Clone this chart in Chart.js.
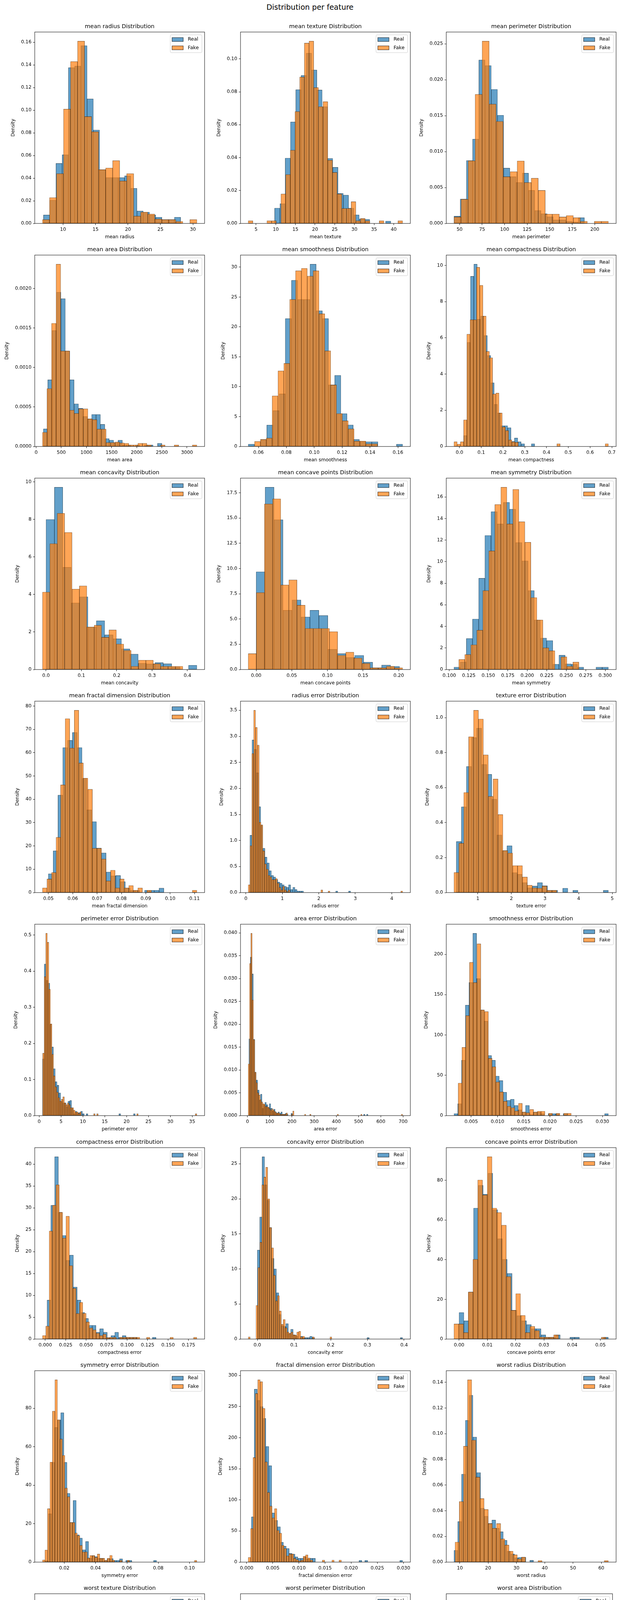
<!DOCTYPE html>
<html lang="en">
<head>
<meta charset="UTF-8">
<title>Distribution per feature</title>
<script src="https://cdn.jsdelivr.net/npm/chart.js"></script>
<style>
  html, body { margin: 0; background: #fff; font-family: "DejaVu Sans", sans-serif; }
  #fig { position: relative; width: 1588px; height: 5764px; background: #fff; overflow: hidden; }
  #suptitle { position: absolute; left: 0; top: 7px; width: 1588px; text-align: center;
              font-size: 19px; line-height: 22px; color: #000; }
  canvas { position: absolute; }
</style>
</head>
<body>
<div id="fig"><div id="suptitle">Distribution per feature</div></div>
<script>
// ---- features, in subplot order (row by row) ----
const featureNames = [
  "mean radius", "mean texture", "mean perimeter", "mean area", "mean smoothness",
  "mean compactness", "mean concavity", "mean concave points", "mean symmetry", "mean fractal dimension",
  "radius error", "texture error", "perimeter error", "area error", "smoothness error",
  "compactness error", "concavity error", "concave points error", "symmetry error", "fractal dimension error",
  "worst radius", "worst texture", "worst perimeter", "worst area", "worst smoothness",
  "worst compactness", "worst concavity", "worst concave points", "worst symmetry", "worst fractal dimension"
];

// ---- histogram bins: left edge of first bin and bin width ----
const realBinStart = [6.981, 9.71, 43.79, 143.5, 0.05263, 0.01938, 0, 0, 0.106, 0.04996,
  0.1115, 0.3602, 0.757, 6.802, 0.001713, 0.002252, 0, 0, 0.007882, 0.0008948,
  7.93, 12.02, 50.41, 185.2, 0.07117, 0.02729, 0, 0, 0.1565, 0.05504];
const realBinWidth = [0.9605, 1.344, 6.89, 87.3, 0.00443, 0.01553, 0.02371, 0.012575, 0.00792, 0.001978,
  0.05876, 0.15083, 0.4162, 6.529, 0.0007175, 0.004591, 0.006492, 0.001703, 0.001974, 0.0005566,
  1.3386, 2.0844, 9.56, 135.6, 0.006883, 0.04481, 0.0626, 0.022385, 0.015853, 0.004918];
const fakeBinStart = [6.83, 3.0, 43.9, 126, 0.05717, -0.0253, -0.0101, -0.0111, 0.1122, 0.04756,
  0.065, 0.292, 0.81, 3.6, 0.002515, -0.00339, -0.0249, -0.0018, 0.00608, 0.0003,
  8.33, 8.85, 52.0, 229.5, 0.075, 0.0, -0.0162, 0.0, 0.161, 0.0549];
const fakeBinWidth = [1.081, 1.19, 7.78, 90.3, 0.0042, 0.01478, 0.0209, 0.0114, 0.0077, 0.001865,
  0.0498, 0.1455, 0.3527, 5.885, 0.000718, 0.0041, 0.0053, 0.00168, 0.00159, 0.000457,
  1.464, 1.937, 9.64, 132.9, 0.007038, 0.04136, 0.0617, 0.0204, 0.01602, 0.0047];

// ---- tick steps and label decimals ----
const xTickStep = [5, 5, 25, 500, 0.02, 0.1, 0.1, 0.05, 0.025, 0.01,
  1, 1, 5, 100, 0.005, 0.025, 0.1, 0.01, 0.02, 0.005,
  10, 5, 50, 1000, 0.025, 0.2, 0.2, 0.05, 0.1, 0.02];
const xTickDecimals = [0, 0, 0, 0, 2, 1, 1, 2, 3, 2,
  0, 0, 0, 0, 3, 3, 1, 2, 2, 3,
  0, 0, 0, 0, 3, 1, 1, 2, 1, 2];
const yTickStep = [0.02, 0.02, 0.005, 0.0005, 5, 2, 2, 2.5, 2, 10,
  0.5, 0.2, 0.1, 0.005, 50, 5, 5, 20, 20, 50,
  0.02, 0.01, 0.0025, 0.0002, 2.5, 0.5, 0.5, 1, 2, 5];
const yTickDecimals = [2, 2, 3, 4, 0, 0, 0, 1, 0, 0,
  1, 1, 1, 3, 0, 0, 0, 0, 0, 0,
  2, 2, 4, 4, 1, 1, 1, 0, 0, 0];

// ---- densities per bin ----
const meanRadiusReal = [0.0075, 0.0205, 0.053, 0.0607, 0.1376, 0.139, 0.157, 0.110, 0.0825, 0.0475,
  0.0405, 0.0405, 0.0405, 0.042, 0.031, 0.011, 0.010, 0.0075, 0.0055, 0.0035, 0.0035, 0.0055];
const meanRadiusFake = [0.0034, 0.0228, 0.044, 0.101, 0.143, 0.161, 0.0944, 0.081, 0.0475, 0.049,
  0.0555, 0.0375, 0.044, 0.0065, 0.010, 0.0083, 0.0039, 0.0034, 0.0034, 0.0018, 0, 0.0034];

const meanTextureReal = [0.0093, 0.012, 0.0397, 0.0617, 0.0813, 0.090, 0.1035, 0.0933, 0.0811, 0.071,
  0.0395, 0.0341, 0.0182, 0.0172, 0.0093, 0.0052, 0.0027, 0.0025, 0, 0, 0, 0.0014];
const meanTextureFake = [0.0016, 0, 0, 0, 0.0016, 0.0016, 0, 0.0179, 0.0297, 0.0445,
  0.068, 0.089, 0.1096, 0.1108, 0.0826, 0.071, 0.074, 0.0384, 0.031, 0.0179,
  0.0091, 0.0091, 0.0132, 0.0016, 0.003, 0.0016, 0, 0, 0.0016, 0,
  0, 0, 0.0016];

const meanPerimeterReal = [0.00102, 0.0034, 0.00876, 0.01174, 0.02275, 0.02197, 0.01866, 0.01506, 0.0077, 0.0065,
  0.0057, 0.0070, 0.0046, 0.0018, 0.00135, 0.00094, 0.0005, 0.0005, 0.0003, 0.0002, 0.0008];
const meanPerimeterFake = [0.0009, 0.00336, 0.00872, 0.01796, 0.02537, 0.01661, 0.0142, 0.0065, 0.0072, 0.0087,
  0.0057, 0.0063, 0.0046, 0.0013, 0.0013, 0.0009, 0.0011, 0.0008, 0.0003, 0, 0.0003, 0.0003];

const meanAreaReal = [0.000223, 0.000845, 0.00147, 0.001955, 0.001873, 0.00121, 0.000845, 0.00054, 0.000484, 0.00038,
  0.00035, 0.000406, 0.000406, 0.00028, 0.0001, 0.00008, 0.00005, 0.00008, 0.00002, 0.00002,
  0, 0.00002, 0, 0.00002, 0.00002, 0, 0.00004];
const meanAreaFake = [0.000179, 0.000734, 0.00156, 0.00231, 0.00121, 0.00121, 0.00046, 0.00042, 0.000477, 0.000477,
  0.00035, 0.00034, 0.00022, 0.00022, 0.00005, 0.00005, 0.000056, 0.000045, 0.00004, 0.00002,
  0.00002, 0.00004, 0.00004, 0.00002, 0, 0, 0.00002, 0, 0, 0.00002,
  0, 0, 0, 0.00002];

const meanSmoothnessReal = [0.39, 0, 1.18, 3.59, 6.0, 8.8, 21.4, 27.8, 24.6, 24.6,
  30.5, 22.7, 21.4, 10.3, 11.9, 5.5, 3.6, 1.18, 0.79, 0.79, 0.79, 0, 0, 0, 0.39];
const meanSmoothnessFake = [0.84, 1.18, 1.4, 8.46, 12.64, 13.9, 24.6, 29.4, 29.8, 28.5,
  29.4, 22.2, 16.0, 10.3, 5.5, 4.3, 2.95, 0.9, 0.9, 0.45, 0.45];

const meanCompactnessReal = [0.6, 5.75, 9.4, 10.07, 7.03, 7.2, 6.13, 5.02, 3.52, 2.33,
  1.85, 1.15, 1.15, 1.04, 0.28, 0.47, 0.26, 0.15, 0, 0, 0.15];
const meanCompactnessFake = [0.26, 0.13, 0.26, 1.47, 6.2, 7.0, 7.0, 9.9, 8.9, 7.2,
  5.25, 4.9, 2.9, 2.95, 1.85, 1.08, 0.88, 0.36, 0.26, 0.23,
  0, 0, 0, 0, 0, 0, 0, 0, 0, 0,
  0, 0, 0.15, 0, 0, 0, 0, 0, 0, 0,
  0, 0, 0, 0, 0, 0, 0, 0.15];

const meanConcavityReal = [8.0, 9.72, 5.45, 3.55, 3.88, 2.27, 2.6, 1.85, 1.64, 1.1,
  0.82, 0.33, 0.3, 0.37, 0.31, 0.15, 0, 0.23];
const meanConcavityFake = [4.13, 6.71, 8.33, 7.31, 4.29, 4.46, 2.27, 2.36, 1.72, 2.11,
  1.36, 1.02, 0.17, 0.5, 0.5, 0.31, 0.17, 0.17, 0.17];

const meanConcavePointsReal = [9.68, 18.05, 14.83, 5.87, 6.89, 5.2, 5.87, 5.35, 2.0, 1.57,
  1.2, 1.4, 0.73, 0.17, 0.44, 0.32];
const meanConcavePointsFake = [1.57, 7.62, 16.4, 16.9, 8.37, 8.87, 6.37, 4.07, 4.07, 4.07,
  3.75, 1.4, 1.72, 1.13, 0.61, 0.17, 0.17, 0.32, 0.17];

const meanSymmetryReal = [0.22, 0.7, 2.88, 4.68, 8.46, 12.43, 14.64, 13.5, 15.5, 14.86,
  11.78, 10.07, 7.32, 4.6, 2.91, 2.69, 0.49, 1.33, 0.52, 0.49, 0.22, 0, 0, 0.22, 0.22];
const meanSymmetryFake = [0.93, 1.39, 2.29, 3.65, 7.32, 11.0, 15.3, 16.9, 13.5, 16.7,
  13.7, 11.8, 6.67, 4.6, 2.01, 1.74, 0, 1.17, 0.3, 0.69];

const meanFractalDimensionReal = [8.06, 17.9, 41.8, 62.2, 65.3, 68.7, 62.2, 49, 35.5, 30.4,
  19.1, 17.0, 8.8, 7.2, 7.3, 4.66, 2.0, 1.0, 1.0, 0, 1.0, 1.0, 1.0, 1.9];
const meanFractalDimensionFake = [2.0, 5.8, 8.6, 23.7, 46.2, 74.6, 62, 78.2, 55.6, 49.1,
  44.3, 19, 19, 14.4, 5.0, 9.6, 2.0, 5.8, 2.0, 3.0,
  1.0, 2.0, 0, 1.0, 0, 0, 0, 0, 0, 0,
  0, 0, 0, 1.0];

const radiusErrorReal = [1.1, 2.93, 2.75, 2.3, 1.65, 1.29, 0.85, 0.68, 0.57, 0.42,
  0.33, 0.3, 0.25, 0.2, 0.18, 0.15, 0.12, 0.1, 0.15, 0.06,
  0.1, 0.06, 0.03, 0.03, 0.03, 0, 0, 0, 0, 0,
  0, 0, 0, 0, 0, 0, 0, 0, 0, 0,
  0.03, 0, 0, 0, 0, 0, 0.03];
const radiusErrorFake = [0.15, 0.9, 2.67, 3.5, 3.17, 2.83, 1.35, 1.3, 0.8, 0.55,
  0.45, 0.33, 0.3, 0.25, 0.25, 0.27, 0.18, 0.1, 0.05, 0.12,
  0.05, 0.02, 0.05, 0, 0, 0, 0, 0, 0, 0,
  0, 0, 0, 0, 0, 0, 0, 0, 0, 0,
  0.05, 0, 0, 0, 0.03, 0, 0, 0, 0, 0,
  0, 0, 0, 0, 0, 0, 0, 0, 0, 0,
  0, 0, 0, 0, 0, 0, 0, 0, 0, 0,
  0, 0, 0, 0, 0, 0, 0, 0, 0, 0,
  0, 0, 0, 0, 0.03];

const textureErrorReal = [0.292, 0.49, 0.721, 0.886, 0.94, 0.733, 0.676, 0.534, 0.329, 0.24,
  0.268, 0.114, 0.104, 0.057, 0.027, 0.037, 0.057, 0.039, 0.013, 0.013,
  0, 0.025, 0, 0.013, 0, 0, 0, 0, 0, 0.013];
const textureErrorFake = [0.115, 0.282, 0.572, 0.891, 1.042, 0.992, 0.787, 0.55, 0.649, 0.446,
  0.24, 0.226, 0.154, 0.154, 0.089, 0.042, 0.027, 0.025, 0.037, 0.013, 0.013];

const perimeterErrorReal = [0.157, 0.42, 0.375, 0.367, 0.253, 0.19, 0.13, 0.094, 0.084, 0.063,
  0.04, 0.035, 0.035, 0.025, 0.04, 0.042, 0.02, 0.005, 0.012, 0.008,
  0.008, 0.012, 0.005, 0, 0.005, 0, 0, 0, 0, 0,
  0, 0, 0, 0, 0, 0, 0, 0, 0, 0,
  0, 0, 0.005, 0, 0, 0, 0, 0, 0, 0,
  0.005];
const perimeterErrorFake = [0.173, 0.385, 0.505, 0.48, 0.35, 0.254, 0.17, 0.11, 0.08, 0.065,
  0.05, 0.04, 0.045, 0.052, 0.035, 0.03, 0.035, 0.03, 0.022, 0.022,
  0.015, 0.01, 0.01, 0.006, 0.01, 0, 0, 0, 0, 0,
  0, 0, 0, 0.005, 0, 0.005, 0, 0, 0, 0,
  0, 0, 0, 0, 0, 0, 0, 0, 0, 0,
  0, 0, 0, 0, 0, 0, 0, 0, 0, 0,
  0, 0.005, 0, 0, 0, 0, 0, 0, 0, 0,
  0, 0, 0, 0, 0, 0, 0, 0, 0, 0,
  0, 0, 0, 0, 0, 0, 0, 0, 0, 0,
  0, 0, 0, 0, 0, 0, 0, 0, 0, 0.005];

const areaErrorReal = [0.0168, 0.0347, 0.031, 0.0167, 0.0095, 0.0078, 0.0056, 0.0034, 0.0047, 0.0016,
  0.0024, 0.0029, 0.0024, 0.0018, 0.0026, 0.0016, 0.001, 0.0014, 0.0008, 0.0005,
  0.0008, 0.0005, 0.0008, 0.0003, 0.0003, 0.0005, 0.0003, 0, 0, 0.0005,
  0, 0, 0, 0, 0, 0, 0, 0, 0, 0,
  0, 0, 0, 0, 0, 0, 0, 0, 0, 0,
  0, 0, 0, 0, 0, 0, 0, 0, 0, 0,
  0, 0, 0, 0, 0, 0, 0, 0, 0, 0,
  0, 0, 0, 0, 0, 0, 0, 0, 0, 0.0003,
  0, 0.0003];
const areaErrorFake = [0.0113, 0.0333, 0.0399, 0.0253, 0.0166, 0.0095, 0.0072, 0.005, 0.0045, 0.0035,
  0.003, 0.0026, 0.0025, 0.002, 0.002, 0.0018, 0.0015, 0.0012, 0.0015, 0.0012,
  0.0009, 0.0006, 0.0006, 0.0006, 0.0003, 0.0003, 0.0003, 0.0003, 0.0003, 0.0006,
  0, 0, 0, 0.0003, 0.001, 0, 0, 0, 0, 0,
  0, 0, 0, 0.0003, 0, 0, 0, 0.0003, 0, 0,
  0, 0, 0, 0, 0, 0, 0, 0, 0, 0,
  0, 0, 0, 0, 0, 0, 0, 0, 0.0003, 0,
  0, 0, 0, 0, 0, 0, 0, 0, 0, 0,
  0, 0, 0, 0, 0, 0, 0.0003, 0, 0, 0,
  0, 0, 0, 0, 0, 0, 0, 0, 0, 0,
  0, 0, 0, 0, 0, 0, 0, 0, 0, 0,
  0, 0, 0, 0, 0, 0, 0, 0.0003];

const smoothnessErrorReal = [2.5, 14.7, 68.6, 137, 165, 226, 170, 131, 117, 74.5,
  68.6, 49, 43.4, 29, 19, 20.3, 12.7, 7.2, 4.5, 12.7,
  1.2, 4.5, 4.5, 2.5, 0, 2.5, 2.5, 2.5, 0, 2.5,
  0, 0, 0, 0, 0, 0, 0, 0, 0, 0,
  2.5];
const smoothnessErrorFake = [40.3, 84.6, 124, 190, 165, 213, 131, 129, 71, 60.6,
  41.7, 29.4, 17.8, 11.6, 9.8, 5.8, 15.2, 4.4, 3.6, 7.6,
  4.4, 5.4, 5.4, 0, 2.9, 0, 2.9, 0, 2.9, 2.9];

const compactnessErrorReal = [8.9, 30.6, 41.7, 29.0, 23.7, 18, 19.2, 11.9, 8.9, 6.1,
  4.7, 3.15, 3.15, 1.55, 2.35, 1.55, 0.34, 0.8, 1.55, 0.4,
  0.8, 0.4, 0.4, 0.4, 0, 0, 0, 0, 0.4];
const compactnessErrorFake = [0.8, 2.96, 24.7, 30.6, 35.3, 29.0, 23.1, 28.1, 16.8, 11.6,
  5.85, 8.4, 5.9, 3.9, 2.55, 2.1, 1.35, 0.8, 1.1, 0.34,
  0.4, 0.4, 0, 0.4, 0.4, 0.4, 0.4, 0.4, 0.4, 0,
  0, 0.4, 0, 0, 0, 0, 0, 0, 0.4, 0,
  0, 0, 0, 0, 0, 0.4];

const concavityErrorReal = [12.7, 17.4, 26.0, 22.0, 19.8, 15.9, 11.5, 10.0, 6.6, 3.5,
  1.9, 1.8, 2.2, 0.8, 1.4, 0.6, 0.4, 0, 0.4, 0.2,
  0.2, 0.2, 0.4, 0.2, 0, 0, 0, 0, 0, 0,
  0, 0, 0, 0, 0, 0, 0, 0, 0, 0,
  0, 0, 0, 0, 0, 0, 0.2, 0, 0, 0,
  0, 0, 0, 0, 0, 0, 0, 0, 0, 0,
  0.2];
const concavityErrorFake = [0.3, 0, 0, 0, 4.8, 10.2, 13.8, 22.0, 23.1, 24.5,
  20.0, 15.9, 13.0, 9.1, 5.45, 6.2, 4.0, 2.1, 2.8, 1.6,
  1.0, 0.8, 1.0, 0.6, 0.55, 1.0, 1.1, 0.3, 0.4, 0,
  0, 0, 0, 0.3, 0, 0, 0, 0, 0, 0,
  0, 0, 0.3];

const concavePointsErrorReal = [13.4, 9.2, 23.7, 66.0, 77.5, 73, 83.6, 65.2, 50.6, 40.2,
  33.1, 14.5, 11.8, 9.2, 7.3, 5.2, 5.2, 2.1, 0.9, 0.9,
  2.1, 0, 0, 0.9, 0.9, 0, 0, 0, 0, 0,
  0.9];
const concavePointsErrorFake = [7.6, 7.6, 3.3, 23.7, 40.2, 80.2, 72.6, 91.9, 66.0, 63.8,
  57.4, 31.5, 14.5, 22.9, 11.9, 3.3, 6.4, 4.3, 1.0, 0.9,
  0.9, 2.1, 0, 0, 0, 0, 0, 0, 0, 0,
  0, 0.9];

const symmetryErrorReal = [0.8, 25.1, 51.9, 70, 74, 77.7, 51.9, 35.8, 20.6, 32.1,
  14.2, 12.5, 6.4, 10.7, 2.1, 3.4, 2.9, 2.0, 2.0, 0.9,
  1.7, 1.8, 0.9, 0.9, 1.7, 0, 0.9, 0.9, 0, 0,
  0, 0, 0, 0, 0, 0.9];
const symmetryErrorFake = [1.1, 6.3, 27.8, 52, 78.5, 94.8, 74, 64, 55.5, 38.5,
  34, 20.6, 20.6, 15.1, 13.8, 8.7, 5.3, 5.3, 2.1, 3.4,
  3.4, 2.5, 4.2, 2.0, 2.0, 0.9, 2.0, 3.5, 1.0, 0,
  0, 0.9, 0, 0, 0.9, 0, 0, 0, 0, 0,
  0, 0, 0, 0, 0, 0, 0, 0, 0, 0,
  0, 0, 0, 0, 0, 0, 0, 0, 0, 0,
  0, 0.9];

const fractalDimensionErrorReal = [72.8, 278, 260, 250, 231, 186, 155, 79, 67, 56.7,
  32, 25.5, 22, 14, 12.8, 8.5, 6.1, 6.1, 8.5, 5.2,
  6.1, 6.1, 0, 0, 0, 0, 0, 0, 0, 0,
  0, 0, 0, 0, 0, 0, 0, 2.8, 0, 2.8,
  0, 0, 0, 0, 0, 0, 0, 0, 0, 0,
  0, 2.8];
const fractalDimensionErrorFake = [7.6, 53.9, 168, 271, 293, 290, 247, 161, 112, 90,
  71, 86, 51, 46.5, 27, 22, 10, 13, 13, 6,
  4, 2, 3, 9.4, 11.6, 6.5, 3.3, 0, 0, 0,
  0, 3.3, 0, 0, 0, 3.3, 0, 0, 3.3];

const worstRadiusReal = [0.0092, 0.0316, 0.0685, 0.1104, 0.130, 0.0974, 0.0697, 0.042, 0.0357, 0.0302,
  0.0328, 0.0264, 0.0236, 0.017, 0.0085, 0.0064, 0.0034, 0.0037, 0.0037, 0, 0.0014];
const worstRadiusFake = [0.0156, 0.0472, 0.0903, 0.142, 0.095, 0.0662, 0.0495, 0.041, 0.030, 0.0264,
  0.030, 0.0181, 0.0133, 0.0085, 0.0057, 0.0025, 0.0039, 0, 0, 0,
  0.0012, 0, 0, 0, 0, 0, 0, 0, 0, 0,
  0, 0, 0, 0, 0, 0, 0.0012];

const worstTextureReal = [0.0034, 0.0153, 0.0389, 0.0477, 0.0565, 0.054, 0.0759, 0.0524, 0.0397, 0.0414,
  0.0253, 0.0135, 0.0073, 0.0043, 0.0037, 0.0017, 0.0017, 0.0009];
const worstTextureFake = [0.0009, 0.0018, 0.0048, 0.012, 0.0267, 0.0478, 0.0523, 0.0734, 0.0606, 0.056,
  0.0625, 0.0387, 0.0312, 0.0147, 0.0125, 0.012, 0.0073, 0.0037, 0.0037, 0.0004, 0.0006];

const worstPerimeterReal = [0.0017, 0.0055, 0.00995, 0.0204, 0.0159, 0.012, 0.0086, 0.0068, 0.0053, 0.0046,
  0.0044, 0.0037, 0.0025, 0.0009, 0.0009, 0.0012, 0.0009, 0.0005, 0.0002, 0, 0.0002];
const worstPerimeterFake = [0.00184, 0.0066, 0.0114, 0.0207, 0.0156, 0.011, 0.0064, 0.0074, 0.005, 0.0037,
  0.0036, 0.0029, 0.0024, 0.0019, 0.0009, 0.0013, 0.0006, 0.0006, 0, 0,
  0, 0.0002, 0, 0, 0, 0.0002];

const worstAreaReal = [0.000313, 0.000912, 0.00167, 0.00117, 0.00088, 0.00056, 0.00037, 0.00031, 0.00023, 0.000286,
  0.000167, 0.00017, 0.000146, 0.000076, 0.000076, 0.000035, 0.00005, 0.000024, 0.00003, 0.00003,
  0.000027, 0.00003, 0.000013, 0, 0, 0, 0, 0, 0, 0.000013];
const worstAreaFake = [0.000478, 0.001265, 0.001616, 0.00092, 0.000556, 0.00048, 0.000367, 0.000229, 0.000227, 0.000227,
  0.00017, 0.000167, 0.000146, 0.000132, 0.000076, 0.000054, 0.000049, 0.000022, 0.000032, 0.000022,
  0.000016, 0.000013, 0.000013, 0, 0.000013, 0, 0, 0, 0, 0,
  0, 0, 0, 0, 0, 0.000013, 0, 0, 0, 0,
  0, 0, 0, 0, 0, 0, 0, 0, 0, 0,
  0, 0, 0, 0, 0, 0.000013];

const worstSmoothnessReal = [0.31, 0.8, 2.03, 6.12, 8.4, 11.48, 12.0, 17.0, 17.85, 16.83,
  18.12, 12.49, 7.78, 5.35, 3.57, 2.8, 1.78, 1.0, 0.28, 0.22, 0.49, 0.52];
const worstSmoothnessFake = [0.22, 1.0, 3.5, 7.8, 12.6, 13.6, 19.1, 17.1, 16.9, 14.3,
  10.0, 7.8, 7.57, 4.55, 2.8, 1.0, 1.5, 0.28, 0.22, 0.49, 0.52, 0, 0.22];

const worstCompactnessReal = [1.22, 2.63, 2.87, 4.0, 2.68, 2.0, 1.6, 1.61, 1.46, 0.955,
  0.632, 0.361, 0.355, 0.123, 0.168, 0.116, 0.116, 0.04, 0, 0, 0.07, 0, 0.04];
const worstCompactnessFake = [0.297, 1.284, 2.53, 3.17, 3.05, 3.25, 2.66, 2.23, 1.4, 1.37,
  0.935, 0.63, 0.39, 0.297, 0.123, 0.077, 0.116, 0.11, 0.04, 0.084, 0, 0.04, 0, 0.04, 0.04];

const worstConcavityReal = [2.107, 2.3, 2.444, 1.8, 1.49, 1.57, 1.26, 0.76, 0.67, 0.48,
  0.45, 0.34, 0.116, 0.112, 0.084, 0.032, 0, 0.032, 0.032, 0.032];
const worstConcavityFake = [1.48, 1.74, 2.15, 2.484, 1.855, 1.71, 1.35, 1.0, 0.685, 0.66,
  0.425, 0.264, 0.12, 0.136, 0.116, 0.032, 0, 0.056];

const worstConcavePointsReal = [2.12, 3.54, 6.6, 7.37, 5.66, 3.22, 4.16, 3.46, 3.13, 2.84, 1.18, 1.17, 0.544];
const worstConcavePointsFake = [1.89, 2.57, 4.38, 6.46, 8.42, 6.03, 4.38, 3.27, 2.84, 2.84,
  2.35, 1.46, 0.68, 0.52, 0.26, 0.08];

const worstSymmetryReal = [0.66, 0.44, 2.1, 3.5, 5.31, 6.77, 7.99, 8.87, 6.0, 6.77,
  6.34, 3.85, 2.45, 1.92, 0.96, 1.16, 0.54, 0.44, 0, 0.54,
  0.54, 0.1, 0.1, 0, 0.1, 0, 0, 0, 0, 0,
  0, 0.1];
const worstSymmetryFake = [0.32, 0.32, 1.92, 3.95, 6.18, 7.65, 7.1, 7.8, 6.0, 5.98,
  3.8, 2.35, 1.55, 0.96, 1.16, 0.3, 0.1, 0.82, 0.5, 0.1,
  0, 0.1, 0, 0, 0, 0.1, 0.2, 0, 0, 0,
  0, 0, 0, 0.1];

const worstFractalDimensionReal = [4.6, 12.5, 23.95, 27, 31.8, 25.1, 17.9, 16.4, 10.6, 10.05,
  7.9, 3.6, 1.85, 2.5, 3.23, 0.41, 1.08, 1.8, 0.41, 0.41,
  0, 0, 0, 0.41, 0, 0, 0, 0, 0, 0,
  0.41];
const worstFractalDimensionFake = [3.5, 14.8, 18.3, 27.6, 30.8, 24.2, 21.0, 16.0, 11.0, 8.2,
  5.1, 3.6, 3.6, 2.2, 2.0, 1.5, 1.0, 0.67, 0.46, 0,
  0, 0, 0, 0, 0, 0, 0.41, 0, 0, 0.41];

const realDensity = [meanRadiusReal, meanTextureReal, meanPerimeterReal, meanAreaReal, meanSmoothnessReal,
  meanCompactnessReal, meanConcavityReal, meanConcavePointsReal, meanSymmetryReal, meanFractalDimensionReal,
  radiusErrorReal, textureErrorReal, perimeterErrorReal, areaErrorReal, smoothnessErrorReal,
  compactnessErrorReal, concavityErrorReal, concavePointsErrorReal, symmetryErrorReal, fractalDimensionErrorReal,
  worstRadiusReal, worstTextureReal, worstPerimeterReal, worstAreaReal, worstSmoothnessReal,
  worstCompactnessReal, worstConcavityReal, worstConcavePointsReal, worstSymmetryReal, worstFractalDimensionReal];
const fakeDensity = [meanRadiusFake, meanTextureFake, meanPerimeterFake, meanAreaFake, meanSmoothnessFake,
  meanCompactnessFake, meanConcavityFake, meanConcavePointsFake, meanSymmetryFake, meanFractalDimensionFake,
  radiusErrorFake, textureErrorFake, perimeterErrorFake, areaErrorFake, smoothnessErrorFake,
  compactnessErrorFake, concavityErrorFake, concavePointsErrorFake, symmetryErrorFake, fractalDimensionErrorFake,
  worstRadiusFake, worstTextureFake, worstPerimeterFake, worstAreaFake, worstSmoothnessFake,
  worstCompactnessFake, worstConcavityFake, worstConcavePointsFake, worstSymmetryFake, worstFractalDimensionFake];

// ---- look ----
const FONT = '"DejaVu Sans", sans-serif';
const REAL_FILL = 'rgba(31,119,180,0.7)';
const FAKE_FILL = 'rgba(255,127,14,0.7)';
const EDGE = 'rgba(0,0,0,0.7)';

// axes boxes in page pixels
const AX_LEFT = [89, 616, 1143];
const AX_W = 435, AX_H = 490;
const PAD_L = 88, PAD_R = 8, PAD_T = 40, PAD_B = 50;
function axTop(row) { return Math.round(81.5 + row * 571.2); }

function makeTicks(min, max, step) {
  const out = [];
  const first = Math.ceil(min / step - 1e-9);
  const last = Math.floor(max / step + 1e-9);
  for (let k = first; k <= last; k++) out.push(+(k * step).toFixed(10));
  return out;
}

// axes frame (all four spines)
const framePlugin = {
  id: 'frame',
  afterDatasetsDraw(chart) {
    const { ctx, chartArea: a } = chart;
    ctx.save();
    ctx.strokeStyle = '#000';
    ctx.lineWidth = 1;
    ctx.strokeRect(a.left, a.top, a.right - a.left, a.bottom - a.top);
    ctx.restore();
  }
};

// legend box in the upper right corner of the axes
const cornerLegend = {
  id: 'cornerLegend',
  afterDraw(chart) {
    const { ctx, chartArea: a } = chart;
    const w = 81, h = 45.6, r = 2.8;
    const x0 = a.right - 6.8 - w, y0 = a.top + 7.2;
    ctx.save();
    ctx.beginPath();
    ctx.moveTo(x0 + r, y0);
    ctx.arcTo(x0 + w, y0, x0 + w, y0 + h, r);
    ctx.arcTo(x0 + w, y0 + h, x0, y0 + h, r);
    ctx.arcTo(x0, y0 + h, x0, y0, r);
    ctx.arcTo(x0, y0, x0 + w, y0, r);
    ctx.closePath();
    ctx.fillStyle = 'rgba(255,255,255,0.8)';
    ctx.fill();
    ctx.strokeStyle = '#cccccc';
    ctx.lineWidth = 1;
    ctx.stroke();
    chart.data.datasets.forEach((ds, k) => {
      const cy = y0 + 12 + k * 21.3;
      ctx.fillStyle = ds.backgroundColor;
      ctx.fillRect(x0 + 4.5, cy - 5, 28.6, 10);
      ctx.strokeStyle = ds.borderColor;
      ctx.lineWidth = 1.2;
      ctx.strokeRect(x0 + 4.5, cy - 5, 28.6, 10);
      ctx.fillStyle = '#000';
      ctx.font = '12.5px ' + FONT;
      ctx.textAlign = 'left';
      ctx.textBaseline = 'middle';
      ctx.fillText(ds.label, x0 + 44.7, cy);
    });
    ctx.restore();
  }
};

const measure = document.createElement('canvas').getContext('2d');
measure.font = '12px ' + FONT;

const fig = document.getElementById('fig');

featureNames.forEach((name, i) => {
  const row = Math.floor(i / 3), col = i % 3;
  const real = realDensity[i], fake = fakeDensity[i];

  const realPts = real.map((d, k) => ({ x: realBinStart[i] + (k + 0.5) * realBinWidth[i], y: d }));
  const fakePts = fake.map((d, k) => ({ x: fakeBinStart[i] + (k + 0.5) * fakeBinWidth[i], y: d }));

  const lo = Math.min(realBinStart[i], fakeBinStart[i]);
  const hi = Math.max(realBinStart[i] + real.length * realBinWidth[i],
                      fakeBinStart[i] + fake.length * fakeBinWidth[i]);
  const xMin = lo - 0.05 * (hi - lo), xMax = hi + 0.05 * (hi - lo);
  const yMax = 1.05 * Math.max(...real, ...fake);

  const xt = makeTicks(xMin, xMax, xTickStep[i]);
  const yt = makeTicks(0, yMax, yTickStep[i]);
  const xd = xTickDecimals[i], yd = yTickDecimals[i];

  // place "Density" like matplotlib: left of the widest tick label
  const labW = Math.max(...yt.map(v => measure.measureText(v.toFixed(yd)).width));
  const yTitlePad = Math.max(0, PAD_L - labW - 28.7 - 7.2);

  const canvas = document.createElement('canvas');
  const cw = PAD_L + AX_W + PAD_R, ch = PAD_T + AX_H + PAD_B;
  canvas.width = cw; canvas.height = ch;
  canvas.style.left = (AX_LEFT[col] - PAD_L) + 'px';
  canvas.style.top = (axTop(row) - PAD_T) + 'px';
  canvas.style.width = cw + 'px';
  canvas.style.height = ch + 'px';
  fig.appendChild(canvas);
  // software 2D context, painted with the page rather than as a GPU layer
  const ctx = canvas.getContext('2d', { willReadFrequently: true });

  const tickFont = { family: FONT, size: 12 };
  const axisGrid = { drawOnChartArea: false, drawTicks: true, tickLength: 4.2, color: '#000', lineWidth: 1, offset: false };
  const barStyle = { borderColor: EDGE, borderWidth: 0.6, borderSkipped: false,
                     barPercentage: 1, categoryPercentage: 1, grouped: false };

  new Chart(ctx, {
    type: 'bar',
    data: {
      datasets: [
        Object.assign({ label: 'Real', data: realPts, xAxisID: 'x', yAxisID: 'y', backgroundColor: REAL_FILL, order: 1 }, barStyle),
        Object.assign({ label: 'Fake', data: fakePts, xAxisID: 'x2', yAxisID: 'y', backgroundColor: FAKE_FILL, order: 0 }, barStyle)
      ]
    },
    options: {
      responsive: false,
      animation: false,
      devicePixelRatio: 1,
      layout: { padding: { left: 0, right: PAD_R, top: 0, bottom: 0 } },
      plugins: {
        legend: { display: false },
        tooltip: { enabled: false },
        title: {
          display: true,
          fullSize: false,
          text: name + ' Distribution',
          color: '#000',
          font: { family: FONT, size: 14.4, weight: 'normal' },
          padding: { top: 17.9, bottom: 4.82 }
        }
      },
      scales: {
        x: {
          type: 'linear', position: 'bottom', min: xMin, max: xMax, offset: false,
          grid: axisGrid, border: { display: false },
          ticks: { autoSkip: false, maxRotation: 0, padding: 4.2, color: '#000', font: tickFont,
                   callback: v => Number(v).toFixed(xd) },
          title: { display: true, text: name, color: '#000', font: tickFont, padding: { top: 0, bottom: 7.5 } },
          afterBuildTicks: s => { s.ticks = xt.map(v => ({ value: v })); },
          afterFit: s => { s.height = PAD_B; }
        },
        x2: {
          type: 'linear', display: false, min: xMin, max: xMax, offset: false,
          grid: { offset: false },
          afterBuildTicks: s => { s.ticks = xt.map(v => ({ value: v })); }
        },
        y: {
          type: 'linear', position: 'left', min: 0, max: yMax,
          grid: axisGrid, border: { display: false },
          ticks: { autoSkip: false, padding: 4.2, color: '#000', font: tickFont,
                   callback: v => Number(v).toFixed(yd) },
          title: { display: true, text: 'Density', color: '#000', font: tickFont, padding: { top: yTitlePad, bottom: 0 } },
          afterBuildTicks: s => { s.ticks = yt.map(v => ({ value: v })); },
          afterFit: s => { s.width = PAD_L; }
        }
      }
    },
    plugins: [framePlugin, cornerLegend]
  });
});
</script>
</body>
</html>
